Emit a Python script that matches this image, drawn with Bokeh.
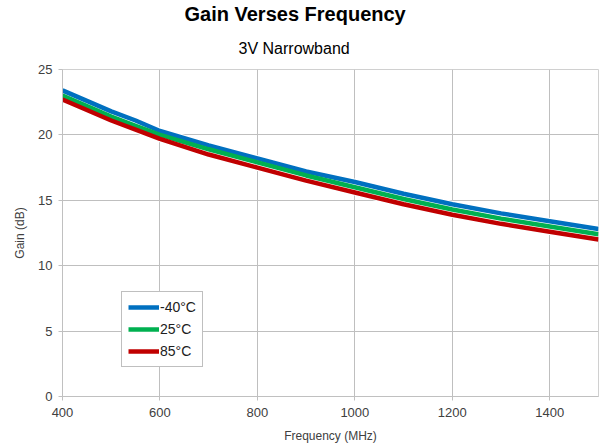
from bokeh.plotting import figure
from bokeh.models import Title, Legend, LegendItem, FixedTicker, Range1d
from bokeh.embed import file_html
from bokeh.resources import INLINE

# Frequency sweep (MHz) and gain (dB) at three temperatures
freq_mhz = [400, 450, 500, 550, 600, 700, 800, 900, 1000, 1100, 1200, 1300, 1400, 1500]
gain_m40 = [23.4, 22.6, 21.8, 21.1, 20.3, 19.2, 18.2, 17.2, 16.4, 15.5, 14.7, 14.0, 13.4, 12.8]
gain_25 = [23.0, 22.2, 21.4, 20.7, 20.0, 18.9, 17.9, 16.9, 16.0, 15.1, 14.3, 13.6, 13.0, 12.4]
gain_85 = [22.7, 21.9, 21.1, 20.4, 19.7, 18.5, 17.5, 16.5, 15.6, 14.7, 13.9, 13.2, 12.6, 12.0]
series_labels = ["-40°C", "25°C", "85°C"]
series_colors = ["#0070C0", "#00B050", "#C00000"]
x_ticks = [400, 600, 800, 1000, 1200, 1400]
y_ticks = [0, 5, 10, 15, 20, 25]

FONT = "Liberation Sans"

p = figure(width=600, height=446, output_backend="svg", toolbar_location=None,
           x_range=Range1d(400, 1500), y_range=Range1d(0, 25),
           min_border_left=62, min_border_right=2, min_border_top=69,
           min_border_bottom=50)
p.title = None
p.outline_line_color = "#d0d0d0"

p.xaxis.ticker = FixedTicker(ticks=x_ticks)
p.yaxis.ticker = FixedTicker(ticks=y_ticks)
for ax in (p.xaxis[0], p.yaxis[0]):
    ax.axis_line_color = "#c0c0c0"
    ax.major_tick_line_color = "#c0c0c0"
    ax.minor_tick_line_color = None
    ax.major_tick_in = 0
    ax.major_label_text_font = FONT
    ax.major_label_text_font_size = "13px"
    ax.major_label_text_color = "#404040"
    ax.axis_label_text_font = FONT
    ax.axis_label_text_font_size = "12px"
    ax.axis_label_text_font_style = "normal"
    ax.axis_label_text_color = "#404040"
p.xaxis.major_tick_out = 4
p.yaxis.major_tick_out = 4
p.xaxis.major_label_standoff = 7
p.yaxis.major_label_standoff = 6
p.xaxis.axis_label = "Frequency (MHz)"
p.yaxis.axis_label = "Gain (dB)"
p.xaxis.axis_label_standoff = 9
p.yaxis.axis_label_standoff = 8

p.xgrid.ticker = FixedTicker(ticks=x_ticks)
p.ygrid.ticker = FixedTicker(ticks=y_ticks)
p.grid.grid_line_color = "#bfbfbf"
p.grid.grid_line_width = 1

items = []
for ys in (gain_m40, gain_25, gain_85):
    p.line(freq_mhz, ys, line_color="white", line_width=6.5)
for ys, lab, col in zip([gain_m40, gain_25, gain_85], series_labels, series_colors):
    r = p.line(freq_mhz, ys, line_color=col, line_width=4.5)
    items.append(LegendItem(label=lab, renderers=[r]))

legend = Legend(items=items, location=(59, 29), border_line_color="#808080",
                border_line_width=1, label_text_font=FONT,
                label_text_font_size="14px", label_text_color="#202020",
                glyph_width=31, glyph_height=18, spacing=4, padding=6,
                margin=0, label_standoff=1, background_fill_alpha=1)
p.add_layout(legend, "center")

# Two-line heading: subtitle sits closest to the frame, main title above it
p.add_layout(Title(text="3V Narrowband", text_font=FONT, text_font_size="16px",
                   text_font_style="normal", text_color="#000000",
                   text_line_height=0.7, align="left", offset=176,
                   standoff=26), "above")
p.add_layout(Title(text="Gain Verses Frequency", text_font=FONT,
                   text_font_size="20px", text_font_style="bold",
                   text_color="#000000", text_line_height=0.7,
                   align="left", offset=122, standoff=0), "above")

open("out.html", "w").write(file_html(p, INLINE))
